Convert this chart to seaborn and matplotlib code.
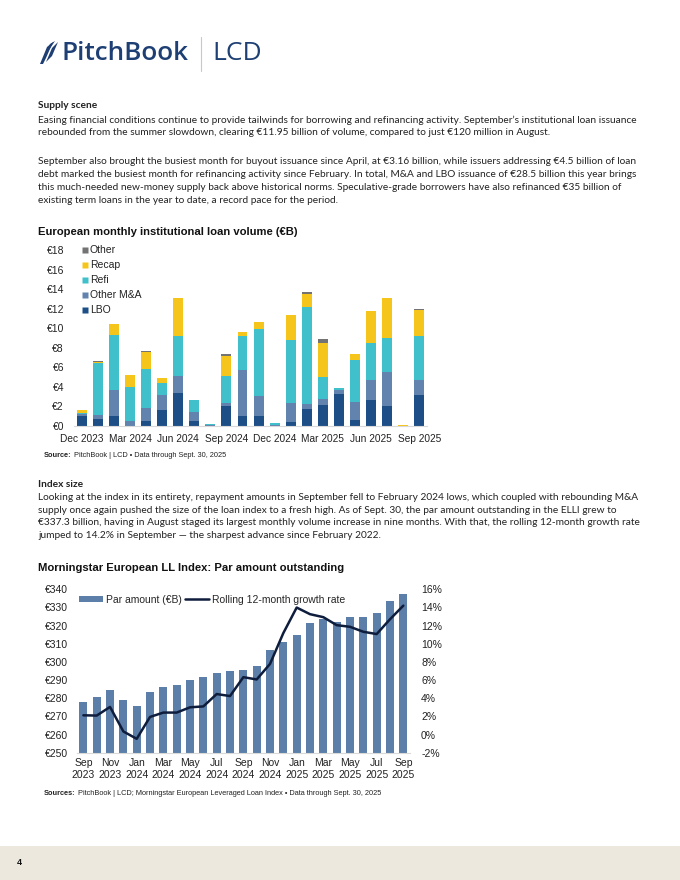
import numpy as np
import pandas as pd
import matplotlib
matplotlib.use("Agg")
import matplotlib.pyplot as plt
from matplotlib.patches import Rectangle, Polygon, Patch
from matplotlib.lines import Line2D
import seaborn as sns

# ---------------- Data: chart 1 (monthly institutional loan volume, EUR bn) ----------------
months1 = ["Dec 2023", "Jan 2024", "Feb 2024", "Mar 2024", "Apr 2024", "May 2024",
           "Jun 2024", "Jul 2024", "Aug 2024", "Sep 2024", "Oct 2024", "Nov 2024",
           "Dec 2024", "Jan 2025", "Feb 2025", "Mar 2025", "Apr 2025", "May 2025",
           "Jun 2025", "Jul 2025", "Aug 2025", "Sep 2025"]
lbo = [1.02, 0.68, 0.96, 0.00, 0.51, 1.57, 3.38, 0.48, 0.00, 2.05, 0.96, 1.02,
       0.00, 0.40, 1.67, 2.15, 3.28, 0.55, 2.63, 2.05, 0.00, 3.16]
other_ma = [0.18, 0.41, 2.69, 0.50, 1.26, 1.53, 1.74, 0.92, 0.12, 0.30, 4.74, 2.05,
            0.12, 1.89, 0.55, 0.61, 0.37, 1.91, 2.05, 3.45, 0.00, 1.52]
refi = [0.12, 5.29, 5.63, 3.50, 4.00, 1.30, 4.08, 1.20, 0.03, 2.73, 3.50, 6.83,
        0.12, 6.48, 9.98, 2.19, 0.21, 4.26, 3.75, 3.50, 0.00, 4.50]
recap = [0.28, 0.12, 1.12, 1.19, 1.81, 0.45, 3.90, 0.00, 0.00, 2.05, 0.40, 0.75,
         0.00, 2.56, 1.28, 3.55, 0.00, 0.58, 3.34, 4.04, 0.12, 2.66]
other = [0.00, 0.10, 0.00, 0.00, 0.10, 0.00, 0.00, 0.00, 0.00, 0.17, 0.00, 0.00,
         0.00, 0.00, 0.17, 0.40, 0.00, 0.00, 0.00, 0.00, 0.00, 0.11]
series1_names = ["LBO", "Other M&A", "Refi", "Recap", "Other"]
series1_colors = ["#1d4f86", "#6283ad", "#3fc0ca", "#f6c51b", "#737373"]
yticks1 = [0, 2, 4, 6, 8, 10, 12, 14, 16, 18]
xtick_labels1 = ["Dec 2023", "Mar 2024", "Jun 2024", "Sep 2024", "Dec 2024",
                 "Mar 2025", "Jun 2025", "Sep 2025"]

# ---------------- Data: chart 2 (ELLI par amount and growth) ----------------
months2 = ["Sep 2023", "Oct 2023", "Nov 2023", "Dec 2023", "Jan 2024", "Feb 2024",
           "Mar 2024", "Apr 2024", "May 2024", "Jun 2024", "Jul 2024", "Aug 2024",
           "Sep 2024", "Oct 2024", "Nov 2024", "Dec 2024", "Jan 2025", "Feb 2025",
           "Mar 2025", "Apr 2025", "May 2025", "Jun 2025", "Jul 2025", "Aug 2025",
           "Sep 2025"]
par_amount = [277.9, 280.5, 284.6, 279.0, 275.5, 283.6, 286.4, 287.1, 290.1, 291.9,
              294.1, 295.0, 295.4, 297.8, 306.3, 311.0, 314.7, 321.3, 323.5, 322.1,
              324.8, 325.0, 326.7, 333.6, 337.3]
growth = [2.12, 2.09, 3.04, 0.34, -0.47, 1.94, 2.42, 2.42, 3.00, 3.10, 4.46, 4.24,
          6.32, 6.07, 7.78, 11.18, 13.99, 13.26, 12.93, 12.05, 11.87, 11.32, 11.07,
          12.70, 14.20]
yticks2_left = [250, 260, 270, 280, 290, 300, 310, 320, 330, 340]
yticks2_right = [-2, 0, 2, 4, 6, 8, 10, 12, 14, 16]

# ---------------- Text ----------------
para1_head = "Supply scene"
para1 = [
    "Easing financial conditions continue to provide tailwinds for borrowing and refinancing activity. September\u2019s institutional loan issuance",
    "rebounded from the summer slowdown, clearing \u20ac11.95 billion of volume, compared to just \u20ac120 million in August.",
]
para2 = [
    "September also brought the busiest month for buyout issuance since April, at \u20ac3.16 billion, while issuers addressing \u20ac4.5 billion of loan",
    "debt marked the busiest month for refinancing activity since February. In total, M&A and LBO issuance of \u20ac28.5 billion this year brings",
    "this much-needed new-money supply back above historical norms. Speculative-grade borrowers have also refinanced \u20ac35 billion of",
    "existing term loans in the year to date, a record pace for the period.",
]
para3_head = "Index size"
para3 = [
    "Looking at the index in its entirety, repayment amounts in September fell to February 2024 lows, which coupled with rebounding M&A",
    "supply once again pushed the size of the loan index to a fresh high. As of Sept. 30, the par amount outstanding in the ELLI grew to",
    "\u20ac337.3 billion, having in August staged its largest monthly volume increase in nine months. With that, the rolling 12-month growth rate",
    "jumped to 14.2% in September \u2014 the sharpest advance since February 2022.",
]
source1 = ("Source:", "PitchBook | LCD \u2022 Data through Sept. 30, 2025")
source2 = ("Sources:", "PitchBook | LCD; Morningstar European Leveraged Loan Index \u2022 Data through Sept. 30, 2025")

sns.set_theme(style="white")
plt.rcParams['font.family'] = ['Liberation Sans', 'DejaVu Sans']

W, H = 680, 880
fig = plt.figure(figsize=(6.8, 8.8), dpi=100)
fig.patch.set_facecolor("white")
renderer = fig.canvas.get_renderer()


def add_ax(l, t, r, b):
    return fig.add_axes([l / W, 1 - b / H, (r - l) / W, (b - t) / H])


def ftext(x, y, s, **kw):
    return fig.text(x / W, 1 - y / H, s, **kw)


def source_line(x, y, parts, fs=5.3):
    t = ftext(x, y, parts[0], fontsize=fs, fontweight="bold", color="#222222",
              va="center")
    bb = t.get_window_extent(renderer=renderer)
    ftext(bb.x1 + 2.5, y, parts[1], fontsize=fs, color="#222222", va="center")


# ---------------- Header ----------------
brand = "#1e3f74"
icon_polys = [
    [(40, 64), (47, 47), (53, 42), (46, 58), (43, 64)],
    [(46, 62), (52, 48), (58, 42), (52, 56)],
    [(45, 55), (50, 44), (55, 41), (49, 50)],
]
for pts in icon_polys:
    fig.patches.append(Polygon([(x / W, 1 - y / H) for x, y in pts], closed=True,
                               transform=fig.transFigure, facecolor=brand,
                               edgecolor="none"))
ftext(61, 53, "PitchBook", fontsize=18.8, color=brand, va="center", ha="left",
      family=["Open Sans", "DejaVu Sans"], fontweight="semibold")
fig.add_artist(Line2D([201 / W, 201 / W], [1 - 37 / H, 1 - 71 / H],
                      color="#c8c8c8", lw=0.8, transform=fig.transFigure))
ftext(212, 53, "LCD", fontsize=19, color=brand, va="center", ha="left",
      family=["Open Sans", "DejaVu Sans"])

# ---------------- Body text ----------------
body_family = ["Lato", "DejaVu Sans"]
body_fs = 7.28
body_col = "#222222"
ftext(38, 106, para1_head, fontsize=body_fs, fontweight="bold", color=body_col,
      va="center", family=body_family)
for i, line in enumerate(para1):
    ftext(38, 120 + i * 12.7, line, fontsize=body_fs, color=body_col, va="center",
          family=body_family)
for i, line in enumerate(para2):
    ftext(38, 162 + i * 12.7, line, fontsize=body_fs, color=body_col, va="center",
          family=body_family)
ftext(38, 484, para3_head, fontsize=body_fs, fontweight="bold", color=body_col,
      va="center", family=body_family)
for i, line in enumerate(para3):
    ftext(38, 497.5 + i * 12.6, line, fontsize=body_fs, color=body_col, va="center",
          family=body_family)

# ---------------- Chart 1 ----------------
ftext(38, 232, "European monthly institutional loan volume (\u20acB)", fontsize=8.1,
      fontweight="bold", color="#111111", va="center")
ax1 = add_ax(73.7, 250, 427.4, 425.7)
df1 = pd.DataFrame({"month": months1, "LBO": lbo, "Other M&A": other_ma,
                    "Refi": refi, "Recap": recap, "Other": other})
cum = df1[series1_names].cumsum(axis=1)
for name, col in reversed(list(zip(series1_names, series1_colors))):
    sns.barplot(x=df1["month"], y=cum[name], color=col, width=0.62, ax=ax1,
                saturation=1, linewidth=0, order=months1)
ax1.set_ylim(0, 18)
ax1.set_xlim(-0.5, len(months1) - 0.5)
ax1.set_yticks(yticks1)
ax1.set_yticklabels([f"\u20ac{v}" for v in yticks1], fontsize=7.5, color="#222222")
ax1.set_xticks([months1.index(m) for m in xtick_labels1])
ax1.set_xticklabels(xtick_labels1, fontsize=7.3, color="#222222")
ax1.tick_params(axis="x", length=0, pad=6)
ax1.tick_params(axis="y", length=0, pad=7)
ax1.set_xlabel("")
ax1.set_ylabel("")
for s in ["top", "right", "left"]:
    ax1.spines[s].set_visible(False)
ax1.spines["bottom"].set_color("#d9d9d9")
ax1.spines["bottom"].set_linewidth(0.8)
handles1 = [Line2D([], [], marker="s", linestyle="none", markersize=4.5,
                   markerfacecolor=c, markeredgecolor="none")
            for c in series1_colors]
leg1 = ax1.legend(handles1[::-1], series1_names[::-1], loc="upper left",
                  bbox_to_anchor=(0.01, 1.05), frameon=False, fontsize=7.5,
                  handlelength=0.6, handletextpad=0.2, labelspacing=0.48,
                  borderaxespad=0.0)
for t in leg1.get_texts():
    t.set_color("#222222")

source_line(44, 455, source1)

# ---------------- Chart 2 ----------------
ftext(38, 568, "Morningstar European LL Index: Par amount outstanding", fontsize=8.1,
      fontweight="bold", color="#111111", va="center")
ax2 = add_ax(76.7, 589.3, 410.0, 752.7)
df2 = pd.DataFrame({"month": months2, "par": par_amount, "growth": growth})
sns.barplot(data=df2, x="month", y="par", color="#5b7fa8", width=0.6, ax=ax2,
            saturation=1, linewidth=0, order=months2)
ax2.set_ylim(250, 340)
ax2.set_xlim(-0.5, len(months2) - 0.5)
ax2.set_yticks(yticks2_left)
ax2.set_yticklabels([f"\u20ac{v}" for v in yticks2_left], fontsize=7.5,
                    color="#222222")
tick_idx2 = list(range(0, len(months2), 2))
ax2.set_xticks(tick_idx2)
ax2.set_xticklabels([months2[i].replace(" ", "\n") for i in tick_idx2],
                    fontsize=7.5, color="#222222", linespacing=1.2)
ax2.tick_params(axis="x", length=0, pad=4)
ax2.tick_params(axis="y", length=0, pad=6)
ax2.set_xlabel("")
ax2.set_ylabel("")
for s in ["top", "right", "left"]:
    ax2.spines[s].set_visible(False)
ax2.spines["bottom"].set_color("#d9d9d9")
ax2.spines["bottom"].set_linewidth(0.8)

ax2r = ax2.twinx()
sns.lineplot(x=np.arange(len(months2)), y=df2["growth"], color="#0f1d3d",
             linewidth=1.8, ax=ax2r)
ax2r.set_ylim(-2, 16)
ax2r.set_yticks(yticks2_right)
ax2r.set_yticklabels([f"{v}%" for v in yticks2_right], fontsize=7.5,
                     color="#222222")
ax2r.tick_params(axis="y", length=0, pad=8)
ax2r.set_ylabel("")
for s in ["top", "right", "left", "bottom"]:
    ax2r.spines[s].set_visible(False)

h_bar = Patch(facecolor="#5b7fa8", edgecolor="none")
h_line = Line2D([], [], color="#0f1d3d", linewidth=1.8)
ax2.legend([h_bar, h_line], ["Par amount (\u20acB)", "Rolling 12-month growth rate"],
           loc="upper left", bbox_to_anchor=(-0.01, 1.0), ncol=2, frameon=False,
           fontsize=7.5, handlelength=2.3, handleheight=0.6, handletextpad=0.3,
           columnspacing=0.3, borderaxespad=0.1)

source_line(44, 793, source2)

# ---------------- Footer ----------------
fig.patches.append(Rectangle((0, 0), 1, 1 - 846 / H, transform=fig.transFigure,
                             facecolor="#ece8dd", edgecolor="none"))
ftext(17, 862, "4", fontsize=6.5, fontweight="bold", color="#111111", va="center")

fig.savefig("out.png", dpi=100, facecolor="white")
